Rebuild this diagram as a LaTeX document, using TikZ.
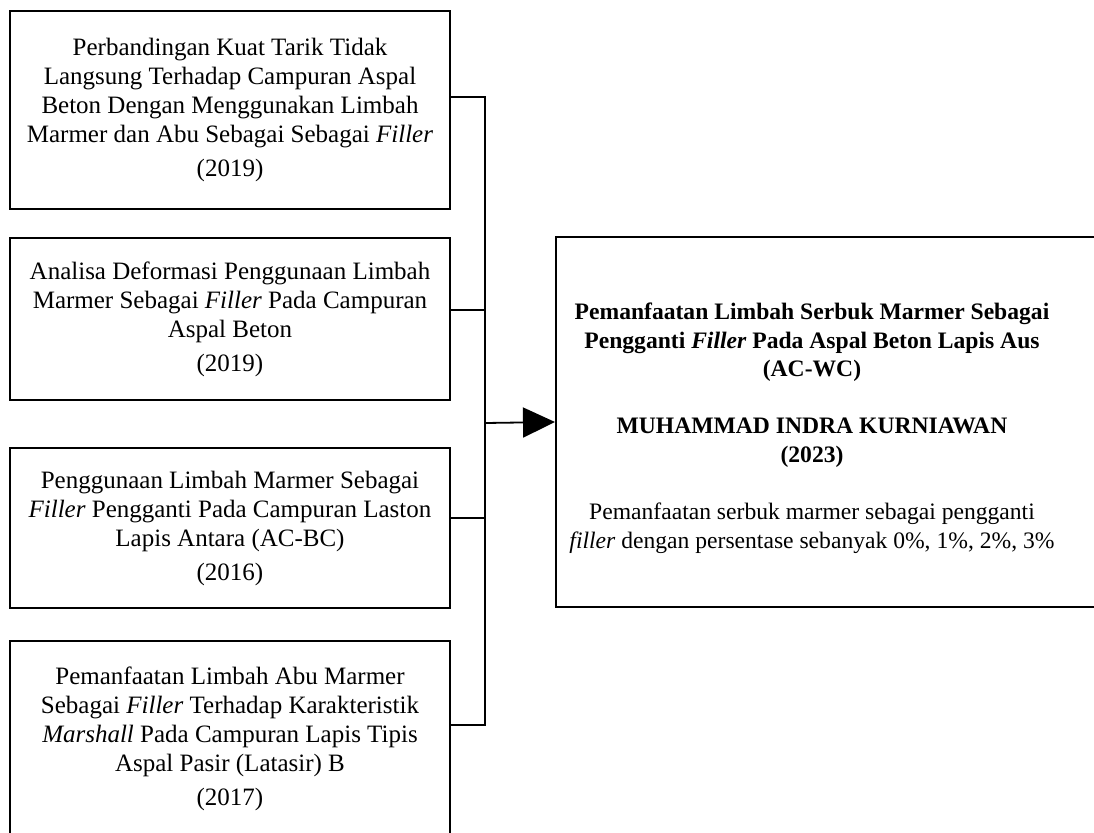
\documentclass[tikz,border=0pt]{standalone}
\usepackage{fontspec}
\setmainfont{Liberation Serif}
\usetikzlibrary{arrows.meta}
\usetikzlibrary{positioning}

\begin{document}
\begin{tikzpicture}[x=0.5pt,y=-0.5pt]
  \tikzset{box/.style={draw, line width=1pt, align=center, minimum width=220pt,
    inner sep=0pt, font=\fontsize{12.5}{14.5}\selectfont}}
  \tikzset{hasilbox/.style={draw, line width=1pt, minimum width=272pt, minimum height=185pt,
    inner sep=0pt, font=\fontsize{11.8}{14.4}\selectfont}}
  \tikzset{line/.style={draw, line width=0.9pt}}
  \tikzset{line2/.style={draw, ->, line width=0.9pt, >={Triangle[length=16pt,width=15pt]}}}

  \useasboundingbox (0,0) rectangle (1094,832);
  \clip (0,0) rectangle (1094,832);

  \node[box, minimum height=99pt] (p1) at (230,110)
    {Perbandingan Kuat Tarik Tidak\\ Langsung Terhadap Campuran Aspal\\
     Beton Dengan Menggunakan Limbah\\ Marmer dan Abu Sebagai Sebagai \textit{Filler}\\[2.5pt] (2019)};
  \node[box, minimum height=81pt] (p2) at (230,319)
    {Analisa Deformasi Penggunaan Limbah\\ Marmer Sebagai \textit{Filler} Pada Campuran\\
     Aspal Beton\\[2.5pt] (2019)};
  \node[box, minimum height=80pt] (p3) at (230,528)
    {Penggunaan Limbah Marmer Sebagai\\ \textit{Filler} Pengganti Pada Campuran Laston\\
     Lapis Antara (AC-BC)\\[2.5pt] (2016)};
  \node[box, minimum height=98pt] (p4) at (230,739)
    {Pemanfaatan Limbah Abu Marmer\\ Sebagai \textit{Filler} Terhadap Karakteristik\\
     \textit{Marshall} Pada Campuran Lapis Tipis\\ Aspal Pasir (Latasir) B\\[2.5pt] (2017)};

  % text sits a little left of and below the box centre
  \node[hasilbox] (hasil) at (828,422)
    {\raisebox{-3pt}[\height][\depth]{\parbox{250pt}{\centering
     \textbf{Pemanfaatan Limbah Serbuk Marmer Sebagai}\\
     \textbf{Pengganti \textit{Filler} Pada Aspal Beton Lapis Aus}\\
     \textbf{(AC-WC)}\\[14pt]
     \textbf{MUHAMMAD INDRA KURNIAWAN}\\ \textbf{(2023)}\\[14pt]
     Pemanfaatan serbuk marmer sebagai pengganti\\
     \textit{filler} dengan persentase sebanyak 0\%, 1\%, 2\%, 3\%}}\hspace*{16pt}};

  \coordinate (j) at (485,423);

  \draw[line] ([yshift=6.5pt]p1.east) -| (j);
  \draw[line] ([yshift=4.5pt]p2.east) -| (j);
  \draw[line] ([yshift=5pt]p3.east) -| (j);
  \draw[line] ([yshift=7pt]p4.east) -| (j);
  \draw[line2] (j) -- (hasil.west);

\end{tikzpicture}
\end{document}
